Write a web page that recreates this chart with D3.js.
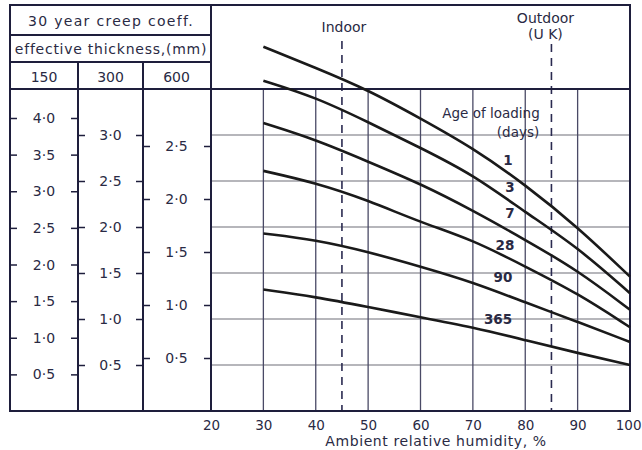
<!DOCTYPE html>
<html><head><meta charset="utf-8">
<script src="https://cdn.jsdelivr.net/npm/d3@7"></script>
<style>
body{margin:0;background:#fff;}
text{font-family:"DejaVu Sans",sans-serif;fill:#2a2a44;}
</style></head><body>
<svg id="c" width="642" height="450"></svg>
<script>
// ---- data ----
const humidity = [30, 40, 50, 60, 70, 80, 90, 100];
const ages = ["1", "3", "7", "28", "90", "365"];
// creep coefficient, read on the 300 mm scale
const creep1   = [3.96, 3.73, 3.49, 3.18, 2.86, 2.46, 2.00, 1.46];
const creep3   = [3.59, 3.41, 3.14, 2.86, 2.57, 2.16, 1.78, 1.28];
const creep7   = [3.13, 2.95, 2.71, 2.47, 2.18, 1.86, 1.53, 1.10];
const creep28  = [2.61, 2.48, 2.29, 2.05, 1.86, 1.57, 1.28, 0.91];
const creep90  = [1.93, 1.86, 1.73, 1.57, 1.40, 1.18, 0.97, 0.75];
const creep365 = [1.32, 1.24, 1.13, 1.02, 0.91, 0.77, 0.63, 0.50];
const xTicks = [20, 30, 40, 50, 60, 70, 80, 90, 100];
const ticks150 = [0.5, 1.0, 1.5, 2.0, 2.5, 3.0, 3.5, 4.0];
const ticks300 = [0.5, 1.0, 1.5, 2.0, 2.5, 3.0];
const ticks600 = [0.5, 1.0, 1.5, 2.0, 2.5];
const gridH = [0.5, 1.0, 1.5, 2.0, 2.5, 3.0];
const gridV = [30, 40, 50, 60, 70, 80, 90];
const indoorRH = 45, outdoorRH = 85;
const thicknesses = ["150", "300", "600"];

const series = [creep1, creep3, creep7, creep28, creep90, creep365];

// ---- scales ----
const svg = d3.select("#c");
const x = d3.scaleLinear().domain([20, 100]).range([211, 630]);
const y = d3.scaleLinear().domain([0, 3.5]).range([411, 89]);       // 300 mm
const y150 = d3.scaleLinear().domain([0, 4.0]).range([411, 118]);
const y600 = d3.scaleLinear().domain([0, 2.5]).range([411, 146]);
const fmt = d => d.toFixed(1).replace(".", "\u00B7");

const frame = "#1e1e3c";

// grid
svg.append("g").selectAll("line").data(gridH).join("line")
  .attr("x1", x(20)).attr("x2", x(100))
  .attr("y1", d => y(d)).attr("y2", d => y(d))
  .attr("stroke", "#6e6e78").attr("stroke-width", 1.2);
svg.append("g").selectAll("line").data(gridV).join("line")
  .attr("x1", d => x(d)).attr("x2", d => x(d))
  .attr("y1", y(3.5)).attr("y2", y(0))
  .attr("stroke", "#4a4a66").attr("stroke-width", 1.3);

// dashed indoor / outdoor lines
svg.append("line").attr("x1", x(indoorRH)).attr("x2", x(indoorRH))
  .attr("y1", 41).attr("y2", y(0))
  .attr("stroke", "#2a2a50").attr("stroke-width", 1.6).attr("stroke-dasharray", "8,6");
svg.append("line").attr("x1", x(outdoorRH)).attr("x2", x(outdoorRH))
  .attr("y1", 44).attr("y2", y(0))
  .attr("stroke", "#2a2a50").attr("stroke-width", 1.6).attr("stroke-dasharray", "8,6");

// frame and table
const fr = svg.append("g").attr("stroke", frame).attr("stroke-width", 2).attr("fill", "none");
fr.append("rect").attr("x", 10).attr("y", 5).attr("width", x(100) - 10).attr("height", y(0) - 5);
fr.append("line").attr("x1", x(20)).attr("x2", x(20)).attr("y1", 5).attr("y2", y(0));
fr.append("line").attr("x1", 10).attr("x2", x(20)).attr("y1", 35).attr("y2", 35);
fr.append("line").attr("x1", 10).attr("x2", x(20)).attr("y1", 62).attr("y2", 62);
fr.append("line").attr("x1", 10).attr("x2", x(100)).attr("y1", y(3.5)).attr("y2", y(3.5));
fr.append("line").attr("x1", 78).attr("x2", 78).attr("y1", 62).attr("y2", y(0));
fr.append("line").attr("x1", 143).attr("x2", 143).attr("y1", 62).attr("y2", y(0));

// header text
svg.append("text").attr("x", 111).attr("y", 26).attr("text-anchor", "middle")
  .attr("font-size", 14).attr("letter-spacing", 1.3).text("30 year creep coeff.");
svg.append("text").attr("x", 111).attr("y", 54).attr("text-anchor", "middle")
  .attr("font-size", 14).attr("letter-spacing", 0.75).text("effective thickness,(mm)");
const colX = [44, 110.5, 176.5];
svg.append("g").selectAll("text").data(thicknesses).join("text")
  .attr("x", (d, i) => colX[i]).attr("y", 82).attr("text-anchor", "middle")
  .attr("font-size", 14).text(d => d);

// left axes (ticks on both edges of each column)
const cols = [
  {sc: y150, t: ticks150, l: 10, r: 78},
  {sc: y, t: ticks300, l: 78, r: 143},
  {sc: y600, t: ticks600, l: 143, r: 211}
];
cols.forEach((c, i) => {
  const gl = svg.append("g").attr("transform", `translate(${c.l},0)`)
    .call(d3.axisRight(c.sc).tickValues(c.t).tickSize(7).tickFormat(""));
  const gr = svg.append("g").attr("transform", `translate(${c.r},0)`)
    .call(d3.axisLeft(c.sc).tickValues(c.t).tickSize(7).tickFormat(""));
  [gl, gr].forEach(g => {
    g.select(".domain").remove();
    g.selectAll("line").attr("stroke", frame).attr("stroke-width", 1.5);
  });
  svg.append("g").selectAll("text").data(c.t).join("text")
    .attr("x", colX[i]).attr("y", d => c.sc(d)).attr("dy", "0.36em")
    .attr("text-anchor", "middle").attr("font-size", 14).text(fmt);
});

// x axis
const xa = svg.append("g").attr("transform", `translate(0,${y(0)})`)
  .call(d3.axisBottom(x).tickValues(xTicks).tickSize(0).tickPadding(9));
xa.select(".domain").remove();
xa.selectAll("text").attr("font-size", 13.5).attr("font-family", "DejaVu Sans").attr("fill", "#2a2a44")
  .filter(d => d === 100).attr("text-anchor", "end").attr("dx", 11);
svg.append("text").attr("x", 436).attr("y", 446).attr("text-anchor", "middle")
  .attr("font-size", 14).attr("letter-spacing", 0.6).text("Ambient relative humidity, %");

// curves
const line = d3.line().x((d, i) => x(humidity[i])).y(d => y(d)).curve(d3.curveBasis);
svg.append("g").selectAll("path").data(series).join("path")
  .attr("d", line).attr("fill", "none").attr("stroke", "#1a1a1a").attr("stroke-width", 2.6);

// annotations
svg.append("text").attr("x", x(indoorRH) + 2).attr("y", 32).attr("text-anchor", "middle")
  .attr("font-size", 14).text("Indoor");
svg.append("text").attr("x", x(outdoorRH) - 6).attr("y", 23).attr("text-anchor", "middle")
  .attr("font-size", 14).text("Outdoor");
svg.append("text").attr("x", x(outdoorRH) - 6).attr("y", 39).attr("text-anchor", "middle")
  .attr("font-size", 14).text("(U K)");
svg.append("text").attr("x", 491).attr("y", 118).attr("text-anchor", "middle")
  .attr("font-size", 13.5).text("Age of loading");
svg.append("text").attr("x", 518).attr("y", 137).attr("text-anchor", "middle")
  .attr("font-size", 13.5).text("(days)");
const labelPos = [[508, 160], [510, 187], [510, 213], [505, 245], [503, 277], [498, 319]];
svg.append("g").selectAll("text").data(ages).join("text")
  .attr("x", (d, i) => labelPos[i][0]).attr("y", (d, i) => labelPos[i][1]).attr("dy", "0.36em")
  .attr("text-anchor", "middle").attr("font-size", 13.5).attr("font-weight", "bold").text(d => d);
</script></body></html>
